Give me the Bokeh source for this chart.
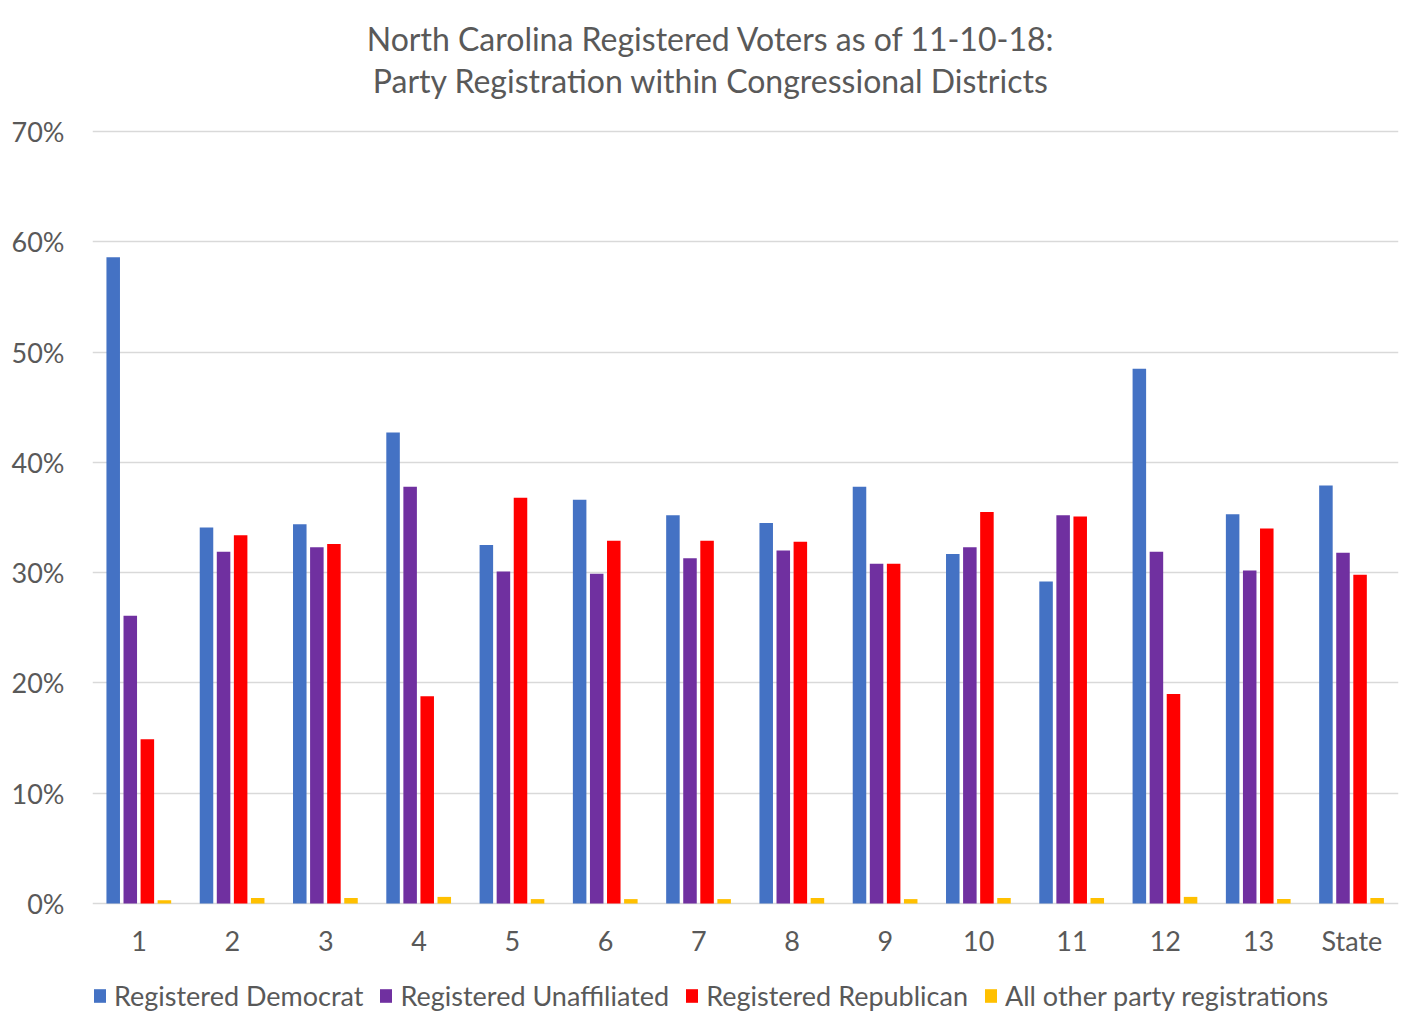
from bokeh.plotting import figure
from bokeh.models import (ColumnDataSource, FactorRange, Range1d, FixedTicker,
                          NumeralTickFormatter, Legend, LegendItem, Label)
from bokeh.transform import dodge
from bokeh.embed import file_html
from bokeh.resources import INLINE

districts = ["1", "2", "3", "4", "5", "6", "7", "8", "9", "10", "11", "12", "13", "State"]
democrat = [58.6, 34.1, 34.4, 42.7, 32.5, 36.6, 35.2, 34.5, 37.8, 31.7, 29.2, 48.5, 35.3, 37.9]
unaffiliated = [26.1, 31.9, 32.3, 37.8, 30.1, 29.9, 31.3, 32.0, 30.8, 32.3, 35.2, 31.9, 30.2, 31.8]
republican = [14.9, 33.4, 32.6, 18.8, 36.8, 32.9, 32.9, 32.8, 30.8, 35.5, 35.1, 19.0, 34.0, 29.8]
other = [0.3, 0.5, 0.5, 0.6, 0.4, 0.4, 0.4, 0.5, 0.4, 0.5, 0.5, 0.6, 0.4, 0.5]

series_names = ["Registered Democrat", "Registered Unaffiliated",
                "Registered Republican", "All other party registrations"]
series_cols = ["dem", "una", "rep", "oth"]
series_colors = ["#4472C4", "#7030A0", "#FF0000", "#FFC000"]
offsets = [-0.278, -0.095, 0.088, 0.271]

title_lines = ["North Carolina Registered Voters as of 11-10-18:",
               "Party Registration within Congressional Districts"]

source = ColumnDataSource(dict(
    district=districts,
    dem=[v / 100 for v in democrat],
    una=[v / 100 for v in unaffiliated],
    rep=[v / 100 for v in republican],
    oth=[v / 100 for v in other],
))

FONT = "Lato"
TXT = "#595959"

# frame fills the canvas vertically; the value axis spans 0..70% between y=131 and y=903
p = figure(width=1414, height=1023, x_range=FactorRange(*districts, range_padding=0),
           y_range=Range1d(-0.1088, 0.8188), output_backend="svg", toolbar_location=None,
           min_border_left=92, min_border_right=16, min_border_top=0,
           min_border_bottom=0, title=None)
p.outline_line_color = None
p.background_fill_color = "white"
p.border_fill_color = "white"

renderers = []
for col, off, colr in zip(series_cols, offsets, series_colors):
    r = p.vbar(x=dodge("district", off, range=p.x_range), top=col, bottom=0, width=0.145,
               source=source, fill_color=colr, line_color=None)
    renderers.append(r)

p.xgrid.grid_line_color = None
p.ygrid.grid_line_color = "#d9d9d9"
p.ygrid.grid_line_width = 1.5

p.yaxis.ticker = FixedTicker(ticks=[0, 0.1, 0.2, 0.3, 0.4, 0.5, 0.6, 0.7])
p.yaxis.formatter = NumeralTickFormatter(format="0%")
for ax in (p.xaxis[0], p.yaxis[0]):
    ax.axis_line_color = None
    ax.major_tick_line_color = None
    ax.minor_tick_line_color = None
    ax.major_tick_out = 0
    ax.major_tick_in = 0
    ax.major_label_text_font = FONT
    ax.major_label_text_font_size = "27px"
    ax.major_label_text_color = TXT
p.yaxis.major_label_standoff = 28
p.xaxis.fixed_location = 0
p.xaxis.major_label_standoff = 20

legend = Legend(items=[LegendItem(label=n, renderers=[r]) for n, r in zip(series_names, renderers)],
                orientation="horizontal", location=(0, 11),
                label_text_font=FONT, label_text_font_size="27px", label_text_color=TXT,
                glyph_width=15, glyph_height=17, label_standoff=7, spacing=15,
                padding=0, margin=0, border_line_color=None, background_fill_alpha=0)
p.add_layout(legend, "center")

for txt, yy in zip(title_lines, [0.7843, 0.7462]):
    p.add_layout(Label(x=6.63, y=yy, text=txt, text_align="center", text_baseline="middle",
                       text_font=FONT, text_font_size="32px", text_color=TXT))

open("out.html", "w").write(file_html(p, INLINE))
